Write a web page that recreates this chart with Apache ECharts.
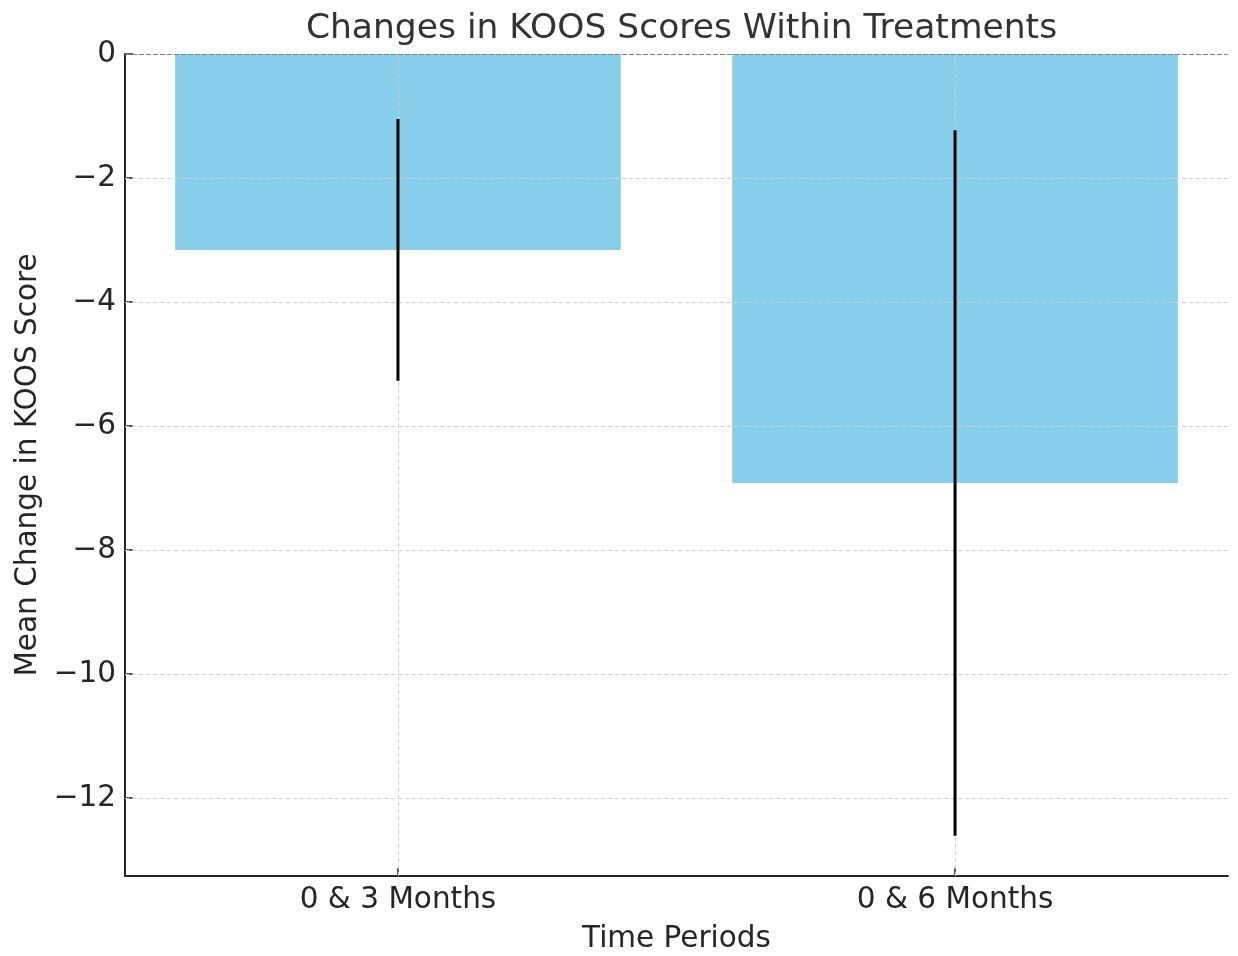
<!DOCTYPE html>
<html>
<head>
<meta charset="utf-8">
<script src="https://cdn.jsdelivr.net/npm/echarts@6/dist/echarts.min.js"></script>
<style>
  html, body { margin: 0; padding: 0; background: #ffffff; }
  #chart { width: 1238px; height: 956px; }
</style>
</head>
<body>
<div id="chart"></div>
<script>
// Mean change in KOOS score for each time period, with error bars
const categories = ['0 & 3 Months', '0 & 6 Months'];
const meanChange = [-3.16, -6.92];
const errorSize = [2.11, 5.69];
const yTicks = [-12, -10, -8, -6, -4, -2, 0];
const xTicks = [0, 1];

const FONT = 'DejaVu Sans';
const TEXT = '#262626';
const LABEL_SIZE = 29.5;

const GRID = { left: 125, right: 10, top: 54, bottom: 80, outerBoundsMode: 'none', containLabel: false };
const plotCentreX = GRID.left + (1238 - GRID.left - GRID.right) / 2;

const barData = categories.map((c, i) => [i, meanChange[i]]);
const errData = categories.map((c, i) => [i, meanChange[i] - errorSize[i], meanChange[i] + errorSize[i]]);

const gridLineStyle = { color: '#cfcfcf', type: [4, 3], width: 1 };

const chart = echarts.init(document.getElementById('chart'), null, { renderer: 'canvas' });

chart.setOption({
  animation: false,
  backgroundColor: '#ffffff',
  title: {
    text: 'Changes in KOOS Scores Within Treatments',
    left: plotCentreX,
    textAlign: 'center',
    top: 7,
    textStyle: { fontFamily: FONT, fontSize: 34.5, fontWeight: 'normal', color: '#333333' }
  },
  grid: GRID,
  xAxis: {
    type: 'value',
    min: -0.49,
    max: 1.49,
    name: 'Time Periods',
    nameLocation: 'middle',
    nameGap: 48,
    nameTextStyle: { fontFamily: FONT, fontSize: LABEL_SIZE, color: TEXT },
    axisLine: { show: true, onZero: false, lineStyle: { color: '#262626', width: 2 } },
    axisTick: { show: true, inside: true, length: 8, customValues: xTicks, lineStyle: { color: '#262626', width: 1.5 } },
    axisLabel: {
      customValues: xTicks,
      margin: 9,
      fontFamily: FONT, fontSize: LABEL_SIZE, color: TEXT,
      formatter: v => categories[Math.round(v)] || ''
    },
    splitLine: { show: false }
  },
  yAxis: {
    type: 'value',
    min: -13.26,
    max: 0,
    name: 'Mean Change in KOOS Score',
    nameLocation: 'middle',
    nameGap: 82,
    nameTextStyle: { fontFamily: FONT, fontSize: LABEL_SIZE, color: TEXT },
    axisLine: { show: true, onZero: false, lineStyle: { color: '#262626', width: 2 } },
    axisTick: { show: true, inside: true, length: 8, customValues: yTicks, lineStyle: { color: '#262626', width: 1.5 } },
    axisLabel: {
      customValues: yTicks,
      margin: 9,
      fontFamily: FONT, fontSize: LABEL_SIZE, color: TEXT,
      formatter: v => v < 0 ? '\u2212' + Math.abs(v) : String(v)
    },
    splitLine: { show: false }
  },
  series: [
    {
      // bars, 0.8 units wide, centred on each category
      type: 'custom',
      z: 1,
      silent: true,
      data: barData,
      renderItem: (params, api) => {
        const x = api.value(0);
        const v = api.value(1);
        const p0 = api.coord([x - 0.4, 0]);
        const p1 = api.coord([x + 0.4, v]);
        return {
          type: 'rect',
          shape: { x: p0[0], y: Math.min(p0[1], p1[1]), width: p1[0] - p0[0], height: Math.abs(p1[1] - p0[1]) },
          style: { fill: '#87ceeb' }
        };
      }
    },
    {
      // dashed grid lines and the zero reference line, drawn over the bars
      type: 'line',
      z: 3,
      silent: true,
      data: [],
      markLine: {
        silent: true,
        symbol: ['none', 'none'],
        label: { show: false },
        animation: false,
        data: [
          ...yTicks.filter(t => t !== 0).map(t => ({ yAxis: t, lineStyle: gridLineStyle })),
          ...xTicks.map(t => ({ xAxis: t, lineStyle: gridLineStyle })),
          { yAxis: 0, lineStyle: { color: '#808080', type: [5, 2], width: 1.2 } }
        ]
      }
    },
    {
      // error bars
      type: 'custom',
      z: 5,
      silent: true,
      data: errData,
      renderItem: (params, api) => {
        const x = api.value(0);
        const a = api.coord([x, api.value(1)]);
        const b = api.coord([x, api.value(2)]);
        return {
          type: 'line',
          shape: { x1: a[0], y1: a[1], x2: b[0], y2: b[1] },
          style: { stroke: '#000000', lineWidth: 3 }
        };
      }
    }
  ]
});
</script>
</body>
</html>
